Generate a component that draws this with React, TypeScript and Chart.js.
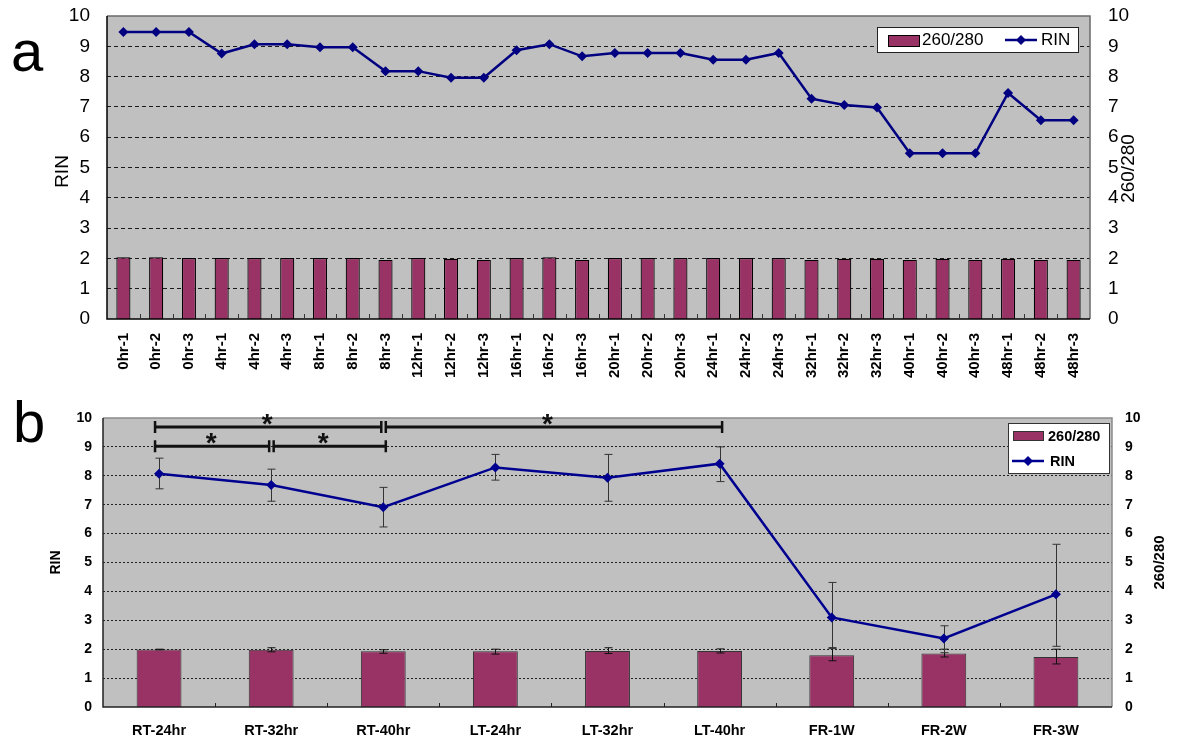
import React, { useEffect, useRef } from "react";
import { Chart, registerables } from "chart.js";
Chart.register(...registerables);

const FONT = "'Liberation Sans', Arial, Helvetica, sans-serif";
const BAR_COLOR = "#993366";
const PLOT_BG = "#c0c0c0";

// ---------- Panel a ----------
const samplesA = [
  "0hr-1", "0hr-2", "0hr-3", "4hr-1", "4hr-2", "4hr-3", "8hr-1", "8hr-2", "8hr-3",
  "12hr-1", "12hr-2", "12hr-3", "16hr-1", "16hr-2", "16hr-3", "20hr-1", "20hr-2", "20hr-3",
  "24hr-1", "24hr-2", "24hr-3", "32hr-1", "32hr-2", "32hr-3", "40hr-1", "40hr-2", "40hr-3",
  "48hr-1", "48hr-2", "48hr-3",
];
const rinA = [
  9.47, 9.47, 9.47, 8.76, 9.07, 9.07, 8.97, 8.97, 8.18,
  8.18, 7.96, 7.96, 8.87, 9.07, 8.67, 8.78, 8.78, 8.78,
  8.56, 8.56, 8.78, 7.27, 7.06, 6.98, 5.47, 5.47, 5.47,
  7.46, 6.56, 6.56,
];
const ratioA = [
  2.04, 2.04, 2.01, 2.01, 2.01, 2.01, 2.01, 2.01, 1.95,
  2.01, 1.99, 1.95, 2.01, 2.04, 1.95, 2.01, 2.01, 2.01,
  2.01, 2.01, 2.01, 1.95, 1.99, 1.99, 1.95, 1.99, 1.95,
  1.99, 1.95, 1.95,
];

// ---------- Panel b ----------
const groupsB = ["RT-24hr", "RT-32hr", "RT-40hr", "LT-24hr", "LT-32hr", "LT-40hr", "FR-1W", "FR-2W", "FR-3W"];
const rinB = [8.07, 7.68, 6.91, 8.29, 7.93, 8.42, 3.1, 2.37, 3.9];
const rinBLow = [7.55, 7.12, 6.23, 7.85, 7.12, 7.8, 2.02, 1.88, 2.1];
const rinBHigh = [8.61, 8.23, 7.6, 8.74, 8.74, 9.0, 4.31, 2.81, 5.63];
const ratioB = [1.99, 1.98, 1.93, 1.93, 1.94, 1.94, 1.79, 1.85, 1.73];
const ratioBLow = [1.98, 1.91, 1.86, 1.83, 1.85, 1.87, 1.6, 1.73, 1.49];
const ratioBHigh = [2.0, 2.05, 1.98, 2.0, 2.05, 2.01, 2.05, 2.0, 2.0];

// significance brackets (category indices, level on RIN axis)
const bracketFrom = [0, 0, 1, 2];
const bracketTo = [2, 1, 2, 5];
const bracketLevel = [9.69, 9.02, 9.02, 9.69];
const bracketMark = ["*", "*", "*", "*"];

const axisMin = 0;
const axisMax = 10;
const axisStep = 1;

// ---------- helpers ----------
function fillPlot(chart: any) {
  const { ctx, chartArea: a } = chart;
  ctx.save();
  ctx.fillStyle = PLOT_BG;
  ctx.fillRect(a.left, a.top, a.right - a.left, a.bottom - a.top);
  ctx.restore();
}

function drawFrame(ctx: CanvasRenderingContext2D, a: any, lbColor: string, trColor: string) {
  ctx.save();
  ctx.setLineDash([]);
  ctx.lineWidth = 1.5;
  ctx.strokeStyle = trColor;
  ctx.beginPath();
  ctx.moveTo(a.left, a.top);
  ctx.lineTo(a.right, a.top);
  ctx.lineTo(a.right, a.bottom);
  ctx.stroke();
  ctx.strokeStyle = lbColor;
  ctx.beginPath();
  ctx.moveTo(a.left, a.top);
  ctx.lineTo(a.left, a.bottom);
  ctx.lineTo(a.right, a.bottom);
  ctx.stroke();
  ctx.restore();
}

function drawBoundaryTicks(chart: any, len: number, color: string) {
  const { ctx, chartArea: a } = chart;
  const xs = chart.scales.x;
  const n = chart.data.labels.length;
  ctx.save();
  ctx.strokeStyle = color;
  ctx.lineWidth = 1;
  for (let i = 1; i < n; i++) {
    const x = Math.round((xs.getPixelForValue(i - 1) + xs.getPixelForValue(i)) / 2) + 0.5;
    ctx.beginPath();
    ctx.moveTo(x, a.bottom);
    ctx.lineTo(x, a.bottom - len);
    ctx.stroke();
  }
  ctx.restore();
}

function drawVTitle(ctx: CanvasRenderingContext2D, text: string, cx: number, cy: number, font: string) {
  ctx.save();
  ctx.translate(cx, cy);
  ctx.rotate(-Math.PI / 2);
  ctx.font = font;
  ctx.fillStyle = "#000";
  ctx.textAlign = "center";
  ctx.textBaseline = "middle";
  ctx.fillText(text, 0, 0);
  ctx.restore();
}

function drawPanelLabel(ctx: CanvasRenderingContext2D, text: string, x: number, y: number) {
  ctx.save();
  ctx.font = `58px ${FONT}`;
  ctx.fillStyle = "#000";
  ctx.textAlign = "left";
  ctx.textBaseline = "alphabetic";
  ctx.fillText(text, x, y);
  ctx.restore();
}

function diamond(ctx: CanvasRenderingContext2D, x: number, y: number, r: number, color: string) {
  ctx.save();
  ctx.fillStyle = color;
  ctx.beginPath();
  ctx.moveTo(x - r, y);
  ctx.lineTo(x, y - r);
  ctx.lineTo(x + r, y);
  ctx.lineTo(x, y + r);
  ctx.closePath();
  ctx.fill();
  ctx.restore();
}

function drawErrorBars(chart: any, scaleId: string, lows: number[], highs: number[], color: string) {
  const { ctx } = chart;
  const xs = chart.scales.x;
  const ys = chart.scales[scaleId];
  ctx.save();
  ctx.strokeStyle = color;
  ctx.lineWidth = 1;
  for (let i = 0; i < lows.length; i++) {
    const x = Math.round(xs.getPixelForValue(i)) + 0.5;
    const y1 = ys.getPixelForValue(lows[i]);
    const y2 = ys.getPixelForValue(highs[i]);
    ctx.beginPath();
    ctx.moveTo(x, y1);
    ctx.lineTo(x, y2);
    ctx.moveTo(x - 4, y1);
    ctx.lineTo(x + 4, y1);
    ctx.moveTo(x - 4, y2);
    ctx.lineTo(x + 4, y2);
    ctx.stroke();
  }
  ctx.restore();
}

function drawBrackets(chart: any) {
  const { ctx } = chart;
  const xs = chart.scales.x;
  const ys = chart.scales.y;
  ctx.save();
  ctx.strokeStyle = "#111";
  ctx.fillStyle = "#111";
  for (let k = 0; k < bracketFrom.length; k++) {
    const from = bracketFrom[k];
    const to = bracketTo[k];
    const lvl = bracketLevel[k];
    const joinedLeft = bracketTo.some((t, j) => j !== k && t === from && bracketLevel[j] === lvl);
    const joinedRight = bracketFrom.some((f, j) => j !== k && f === to && bracketLevel[j] === lvl);
    const x1 = xs.getPixelForValue(from) + (joinedLeft ? 2.5 : -4);
    const x2 = xs.getPixelForValue(to) + (joinedRight ? -2 : 2.5);
    const y = ys.getPixelForValue(lvl);
    ctx.lineWidth = 3;
    ctx.beginPath();
    ctx.moveTo(x1, y);
    ctx.lineTo(x2, y);
    ctx.stroke();
    ctx.lineWidth = 2.5;
    ctx.beginPath();
    ctx.moveTo(x1, y - 6);
    ctx.lineTo(x1, y + 6);
    ctx.moveTo(x2, y - 6);
    ctx.lineTo(x2, y + 6);
    ctx.stroke();
    ctx.font = `bold 28px ${FONT}`;
    ctx.textAlign = "center";
    ctx.textBaseline = "alphabetic";
    ctx.fillText(bracketMark[k], (xs.getPixelForValue(from) + xs.getPixelForValue(to)) / 2 - 4, y + 6);
  }
  ctx.restore();
}

// ---------- plugins ----------
const decorA = {
  id: "decorA",
  beforeDraw(chart: any) {
    fillPlot(chart);
  },
  afterDraw(chart: any) {
    const { ctx, chartArea: a } = chart;
    drawFrame(ctx, a, "#000", "#6a6a6a");
    drawBoundaryTicks(chart, 5, "#333");
    const cy = (a.top + a.bottom) / 2;
    drawVTitle(ctx, "RIN", a.left - 44.5, cy + 4, `19px ${FONT}`);
    drawVTitle(ctx, "260/280", a.right + 39, cy + 1, `19px ${FONT}`);
    drawPanelLabel(ctx, "a", 11, 71);

    // legend (horizontal)
    const w = 201, h = 25;
    const x0 = a.right - 12 - w, y0 = a.top + 11;
    ctx.save();
    ctx.fillStyle = "#fff";
    ctx.fillRect(x0, y0, w, h);
    ctx.strokeStyle = "#222";
    ctx.lineWidth = 1;
    ctx.strokeRect(x0 + 0.5, y0 + 0.5, w, h);
    ctx.fillStyle = BAR_COLOR;
    ctx.fillRect(x0 + 11, y0 + 8, 31, 11);
    ctx.strokeStyle = "#000";
    ctx.strokeRect(x0 + 11.5, y0 + 8.5, 31, 11);
    ctx.fillStyle = "#000";
    ctx.font = `17px ${FONT}`;
    ctx.textAlign = "left";
    ctx.textBaseline = "middle";
    ctx.fillText("260/280", x0 + 45, y0 + 13.5);
    ctx.strokeStyle = "#000080";
    ctx.lineWidth = 2.5;
    ctx.beginPath();
    ctx.moveTo(x0 + 128, y0 + 13);
    ctx.lineTo(x0 + 160, y0 + 13);
    ctx.stroke();
    diamond(ctx, x0 + 144, y0 + 13, 5, "#000080");
    ctx.fillStyle = "#000";
    ctx.fillText("RIN", x0 + 164, y0 + 13.5);
    ctx.restore();
  },
};

const decorB = {
  id: "decorB",
  beforeDraw(chart: any) {
    fillPlot(chart);
  },
  afterDatasetDraw(chart: any, args: any) {
    if (args.index === 1) {
      drawErrorBars(chart, "y1", ratioBLow, ratioBHigh, "#111");
      drawErrorBars(chart, "y", rinBLow, rinBHigh, "#333");
    }
  },
  afterDraw(chart: any) {
    const { ctx, chartArea: a } = chart;
    drawFrame(ctx, a, "#222", "#8a8a8a");
    drawBoundaryTicks(chart, 4, "#222");
    drawBrackets(chart);
    const cy = (a.top + a.bottom) / 2;
    drawVTitle(ctx, "RIN", a.left - 47, cy, `bold 14px ${FONT}`);
    drawVTitle(ctx, "260/280", a.right + 48, cy, `bold 15px ${FONT}`);
    drawPanelLabel(ctx, "b", 13, 52);

    // legend (vertical)
    const w = 101, h = 50;
    const x0 = a.right - 3 - w, y0 = a.top + 5;
    ctx.save();
    ctx.fillStyle = "#fff";
    ctx.fillRect(x0, y0, w, h);
    ctx.strokeStyle = "#333";
    ctx.lineWidth = 1;
    ctx.strokeRect(x0 + 0.5, y0 + 0.5, w, h);
    ctx.fillStyle = BAR_COLOR;
    ctx.fillRect(x0 + 5, y0 + 8, 30, 9);
    ctx.strokeStyle = "#333";
    ctx.strokeRect(x0 + 5.5, y0 + 8.5, 30, 9);
    ctx.fillStyle = "#000";
    ctx.font = `bold 14.5px ${FONT}`;
    ctx.textAlign = "left";
    ctx.textBaseline = "middle";
    ctx.fillText("260/280", x0 + 40, y0 + 13.5);
    ctx.strokeStyle = "#000090";
    ctx.lineWidth = 2.5;
    ctx.beginPath();
    ctx.moveTo(x0 + 4, y0 + 38);
    ctx.lineTo(x0 + 36, y0 + 38);
    ctx.stroke();
    diamond(ctx, x0 + 20, y0 + 38, 5, "#000090");
    ctx.fillStyle = "#000";
    ctx.fillText("RIN", x0 + 42, y0 + 38.5);
    ctx.restore();
  },
};

// ---------- chart builders ----------
function gridColor(color: string) {
  return (c: any) => (c.tick && c.tick.value > axisMin && c.tick.value < axisMax ? color : "rgba(0,0,0,0)");
}

function fixVertical(width: number) {
  return (s: any) => {
    s.width = width;
    s.paddingTop = 0;
    s.paddingBottom = 0;
  };
}

function fixHorizontal(height: number) {
  return (s: any) => {
    s.height = height;
    s.paddingLeft = 0;
    s.paddingRight = 0;
  };
}

function buildA(canvas: HTMLCanvasElement) {
  return new Chart(canvas, {
    type: "bar",
    data: {
      labels: samplesA,
      datasets: [
        {
          type: "line",
          label: "RIN",
          data: rinA,
          yAxisID: "y",
          borderColor: "#000080",
          backgroundColor: "#000080",
          borderWidth: 2.5,
          pointStyle: "rectRot",
          pointRadius: 5,
          pointHoverRadius: 5,
          pointBackgroundColor: "#000080",
          pointBorderColor: "#000080",
          pointBorderWidth: 0,
          tension: 0,
          order: 0,
        } as any,
        {
          type: "bar",
          label: "260/280",
          data: ratioA,
          yAxisID: "y1",
          backgroundColor: BAR_COLOR,
          borderColor: "#000",
          borderWidth: 1.2,
          categoryPercentage: 1,
          barPercentage: 0.43,
          order: 1,
        } as any,
      ],
    },
    options: {
      animation: false,
      responsive: false,
      layout: { padding: { top: 16, left: 0, right: 0, bottom: 0 } },
      plugins: { legend: { display: false }, tooltip: { enabled: false } },
      scales: {
        x: {
          grid: { display: false, drawTicks: false },
          border: { display: false },
          ticks: {
            autoSkip: false,
            minRotation: 90,
            maxRotation: 90,
            padding: 14,
            color: "#000",
            font: { family: FONT, size: 15, weight: "bold" },
          },
          afterFit: fixHorizontal(71),
        },
        y: {
          position: "left",
          min: axisMin,
          max: axisMax,
          ticks: { stepSize: axisStep, padding: 17, color: "#000", font: { family: FONT, size: 19 } },
          grid: { drawTicks: false, color: gridColor("#1a1a1a"), lineWidth: 1 },
          border: { display: false, dash: [4, 3] },
          afterFit: fixVertical(107),
        },
        y1: {
          position: "right",
          min: axisMin,
          max: axisMax,
          ticks: { stepSize: axisStep, padding: 18, color: "#000", font: { family: FONT, size: 19 } },
          grid: { display: false, drawTicks: false },
          border: { display: false },
          afterFit: fixVertical(88),
        },
      },
    } as any,
    plugins: [decorA],
  });
}

function buildB(canvas: HTMLCanvasElement) {
  return new Chart(canvas, {
    type: "bar",
    data: {
      labels: groupsB,
      datasets: [
        {
          type: "line",
          label: "RIN",
          data: rinB,
          yAxisID: "y",
          borderColor: "#000090",
          backgroundColor: "#000090",
          borderWidth: 2.5,
          pointStyle: "rectRot",
          pointRadius: 5,
          pointHoverRadius: 5,
          pointBackgroundColor: "#000090",
          pointBorderColor: "#000090",
          pointBorderWidth: 0,
          tension: 0,
          order: 0,
        } as any,
        {
          type: "bar",
          label: "260/280",
          data: ratioB,
          yAxisID: "y1",
          backgroundColor: BAR_COLOR,
          borderColor: "#333",
          borderWidth: 1,
          categoryPercentage: 1,
          barPercentage: 0.4,
          order: 1,
        } as any,
      ],
    },
    options: {
      animation: false,
      responsive: false,
      layout: { padding: { top: 28, left: 0, right: 0, bottom: 0 } },
      plugins: { legend: { display: false }, tooltip: { enabled: false } },
      scales: {
        x: {
          grid: { display: false, drawTicks: false },
          border: { display: false },
          ticks: {
            autoSkip: false,
            minRotation: 0,
            maxRotation: 0,
            padding: 15,
            color: "#000",
            font: { family: FONT, size: 14.5, weight: "bold" },
          },
          afterFit: fixHorizontal(31),
        },
        y: {
          position: "left",
          min: axisMin,
          max: axisMax,
          ticks: { stepSize: axisStep, padding: 11, color: "#000", font: { family: FONT, size: 14, weight: "bold" } },
          grid: { drawTicks: false, color: gridColor("#222"), lineWidth: 1 },
          border: { display: false, dash: [2, 2] },
          afterFit: fixVertical(103),
        },
        y1: {
          position: "right",
          min: axisMin,
          max: axisMax,
          ticks: { stepSize: axisStep, padding: 13, color: "#000", font: { family: FONT, size: 14, weight: "bold" } },
          grid: { display: false, drawTicks: false },
          border: { display: false },
          afterFit: fixVertical(66),
        },
      },
    } as any,
    plugins: [decorB],
  });
}

function ChartCanvas({ top, height, build }: { top: number; height: number; build: (c: HTMLCanvasElement) => Chart }) {
  const ref = useRef<HTMLCanvasElement>(null);
  useEffect(() => {
    if (!ref.current) return;
    const chart = build(ref.current);
    return () => chart.destroy();
  }, [build]);
  return (
    <canvas
      ref={ref}
      width={1178}
      height={height}
      style={{ position: "absolute", left: 0, top, width: 1178, height, display: "block" }}
    />
  );
}

export default function App() {
  return (
    <div style={{ position: "absolute", left: 0, top: 0, width: 1178, height: 738, background: "#fff", overflow: "hidden" }}>
      <ChartCanvas top={0} height={390} build={buildA} />
      <ChartCanvas top={390} height={348} build={buildB} />
    </div>
  );
}
